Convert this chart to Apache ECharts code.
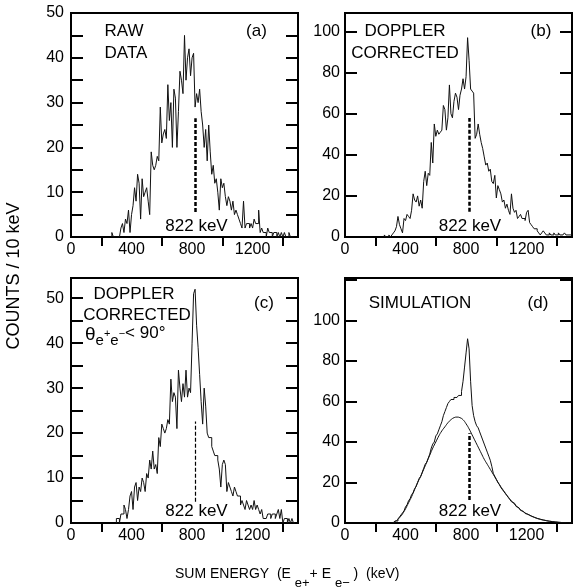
<!DOCTYPE html>
<html>
<head>
<meta charset="utf-8">
<title>Sum energy spectra</title>
<script src="https://cdn.jsdelivr.net/npm/echarts@6/dist/echarts.min.js"></script>
<style>
    html, body { margin: 0; padding: 0; background: #fff; }
    #chart { width: 573px; height: 588px; }
</style>
</head>
<body>
<div id="chart"></div>
<script>
// counts per 10 keV bin, each list starts at its *Start energy (keV)
const binWidth = 10

// (a) raw data
const rawStart = 270
const rawCounts = [
    1, 0, 0, 0, 0, 0, 2, 3, 1, 4,
    3, 6, 1, 5, 7, 11, 8, 14, 12, 4,
    13, 9, 10, 11, 8, 5, 19, 16, 15, 16,
    18, 17, 29, 21, 23, 24, 22, 34, 26, 30,
    20, 33, 31, 20, 28, 37, 35, 32, 45, 35,
    40, 42, 36, 40, 41, 29, 32, 30, 33, 28,
    25, 20, 24, 17, 25, 19, 14, 16, 12, 13,
    10, 6, 13, 11, 12, 9, 7, 9, 8, 6,
    8, 5, 6, 5, 4, 3, 2, 8, 2, 3,
    3, 2, 3, 2, 4, 3, 3, 6, 1, 2,
    1, 1, 0, 2, 1, 1, 0, 1, 1, 0,
    1, 0, 1, 0, 1, 0, 0, 1, 0, 0
]

// (b) doppler corrected
const dopStart = 260
const dopCounts = [
    1, 0, 0, 1, 0, 1, 2, 3, 5, 10,
    6, 4, 2, 9, 8, 11, 10, 9, 13, 21,
    18, 17, 20, 15, 18, 14, 27, 32, 25, 31,
    30, 46, 36, 55, 49, 52, 50, 51, 52, 64,
    62, 52, 58, 74, 60, 58, 66, 70, 68, 62,
    69, 72, 77, 72, 78, 97, 86, 72, 71, 70,
    48, 50, 55, 50, 46, 43, 39, 35, 36, 32,
    33, 27, 26, 30, 19, 25, 23, 21, 17, 18,
    14, 16, 13, 11, 21, 14, 12, 13, 9, 10,
    11, 9, 9, 8, 12, 13, 7, 6, 5, 4,
    4, 3, 2, 1, 2, 3, 2, 1, 1, 2,
    1, 1, 2, 1, 1, 2, 1, 1, 1, 2,
    1, 1, 1, 1
]

// (c) doppler corrected, theta < 90
const gateStart = 300
const gateCounts = [
    1, 1, 0, 2, 2, 4, 3, 1, 3, 6,
    7, 3, 8, 9, 5, 8, 7, 10, 9, 7,
    11, 10, 14, 12, 16, 12, 13, 11, 19, 17,
    22, 21, 20, 21, 23, 22, 32, 27, 29, 28,
    21, 34, 30, 27, 31, 28, 34, 28, 30, 29,
    40, 51, 52, 44, 39, 33, 27, 22, 30, 26,
    20, 19, 19, 17, 16, 15, 15, 14, 12, 8,
    13, 14, 13, 7, 9, 8, 7, 6, 8, 7,
    6, 6, 4, 5, 4, 3, 5, 4, 3, 4,
    3, 5, 3, 4, 3, 2, 3, 1, 1, 1,
    2, 2, 1, 2, 2, 1, 2, 3, 1, 3,
    0, 1, 1, 0, 1, 0, 1, 0
]

// (d) simulation histogram
const simStart = 320
const simCounts = [
    0, 1, 1, 2, 3, 4, 5, 6, 8, 9,
    11, 12, 14, 15, 17, 18, 20, 22, 23, 25,
    27, 29, 30, 32, 34, 37, 39, 40, 43, 44,
    46, 48, 50, 53, 55, 57, 59, 60, 61, 61,
    62, 62, 62, 63, 63, 65, 70, 77, 84, 91,
    86, 70, 58, 53, 50, 48, 47, 45, 43, 41,
    39, 37, 35, 33, 31, 28, 24.5, 23, 21.5, 20,
    19, 17.5, 16.5, 15.5, 14.5, 13.5, 12.5, 11.5, 10.5, 9.8,
    9, 8.2, 7.5, 6.8, 6.2, 5.7, 5.2, 4.7, 4.3, 3.9,
    3.5, 3.2, 2.9, 2.6, 2.3, 2.1, 1.9, 1.7, 1.5, 1.3,
    1.2, 1, 0.9, 0.8, 0.7, 0.6, 0.5, 0.4, 0.35, 0.3,
    0.25, 0.2, 0.15, 0.1
]

// (d) smooth curve, every 20 keV from 300
const curveEnergy = [
    300, 320, 340, 360, 380, 400, 420, 440, 460, 480,
    500, 520, 540, 560, 580, 600, 620, 640, 660, 680,
    700, 720, 740, 760, 780, 800, 820, 840, 860, 880,
    900, 920, 940, 960, 980, 1000, 1020, 1040, 1060, 1080,
    1100, 1120, 1140, 1160, 1180, 1200, 1220, 1240, 1260, 1280,
    1300, 1320, 1340, 1360, 1380, 1400, 1420, 1440, 1460, 1480, 1500
]
const curveCounts = [
    0, 0.3, 1.2, 2.6, 4.5, 7, 10, 13, 16.5, 20,
    23, 26.5, 30, 33.5, 37, 40, 43, 45.5, 47.5, 49.5,
    51, 52, 52.3, 52, 51, 49, 46.5, 43.5, 40.5, 37.5,
    34.5, 31.5, 29, 26.5, 24, 21.5, 19, 16.8, 14.7, 12.7,
    10.9, 9.3, 7.9, 6.6, 5.5, 4.6, 3.8, 3.1, 2.5, 2,
    1.6, 1.3, 1, 0.8, 0.6, 0.45, 0.3, 0.2, 0.1, 0.05, 0
]

// 822 keV marker, dashed from..to (counts)
const markerKeV = 822
const rawMarker = [5.6, 26.5]
const dopMarker = [12.3, 57.9]
const gateMarker = [4.7, 22.6]
const simMarker = [11.4, 44.3]

// axis ticks and labels
const xLabelValues = [0, 400, 800, 1200]
const xTickValues = [200, 600, 1000, 1400]
const yLabels10 = [0, 10, 20, 30, 40, 50]
const yLabels20 = [0, 20, 40, 60, 80, 100]

const font = 'Liberation Sans, Arial, Helvetica, sans-serif'

function histPoints (start, counts) {
    let pts = [[start, 0]]
    counts.forEach(function (c, i) {
        pts.push([start + i * binWidth, c])
    })
    pts.push([start + counts.length * binWidth, counts[counts.length - 1]])
    return pts
}

// grid boxes in px
const panels = [
    { left: 71, top: 13, height: 224, yMax: 50, yTick: 5, yLabels: yLabels10, margin: 7 },
    { left: 345, top: 13, height: 224, yMax: 109, yTick: 20, yLabels: yLabels20, margin: 5 },
    { left: 71, top: 278, height: 245, yMax: 54.5, yTick: 5, yLabels: yLabels10, margin: 7 },
    { left: 345, top: 278, height: 245, yMax: 121, yTick: 20, yLabels: yLabels20, margin: 5 }
]
const plotWidth = 227

// new objects for every axis, nothing shared between them
function blackLine (show) {
    return { show: show, lineStyle: { color: '#000', width: 2 } }
}
function tickStyle (inside, length, values) {
    let t = { show: true, inside: inside, length: length, lineStyle: { color: '#000', width: 2 } }
    if (values) t.customValues = values.slice()
    return t
}

let grids = []
let xAxes = []
let yAxes = []
panels.forEach(function (p, i) {
    grids.push({
        left: p.left, top: p.top, width: plotWidth, height: p.height,
        show: true, borderColor: '#000', borderWidth: 2
    })
    // labels (x = 2i)
    xAxes.push({
        type: 'value', gridIndex: i, min: 0, max: 1500,
        axisLine: blackLine(true),
        splitLine: { show: false },
        axisTick: { show: false },
        axisLabel: {
            customValues: xLabelValues.slice(), margin: 5, color: '#000', fontSize: 16, fontFamily: font,
            formatter: function (v) { return String(v) }
        }
    })
    // ticks (x = 2i + 1), sits on y = 0 as a top axis, so inside points down
    xAxes.push({
        type: 'value', gridIndex: i, min: 0, max: 1500,
        axisLine: blackLine(false),
        splitLine: { show: false },
        axisTick: tickStyle(true, 9, xTickValues),
        axisLabel: { show: false }
    })
    yAxes.push({
        type: 'value', gridIndex: i, min: 0, max: p.yMax, interval: p.yTick, position: 'left',
        axisLine: blackLine(true),
        splitLine: { show: false },
        axisTick: tickStyle(true, 12),
        axisLabel: {
            customValues: p.yLabels.slice(), margin: p.margin, color: '#000', fontSize: 16, fontFamily: font
        }
    })
    // second y axis lands on x = 0; a dashed full-width tick gives the
    // 12 px marks at both the left and the right frame
    let rightTick = tickStyle(false, plotWidth)
    rightTick.lineStyle.type = [12, plotWidth - 24, 12]
    yAxes.push({
        type: 'value', gridIndex: i, min: 0, max: p.yMax, interval: p.yTick, position: 'right',
        axisLine: blackLine(true),
        splitLine: { show: false },
        axisTick: rightTick,
        axisLabel: { show: false }
    })
})

function markLine (range, width) {
    return {
        silent: true,
        symbol: ['none', 'none'],
        label: { show: false },
        lineStyle: { color: '#000', width: width, type: [4, 2] },
        data: [[{ coord: [markerKeV, range[0]] }, { coord: [markerKeV, range[1]] }]]
    }
}

function histSeries (idx, start, counts, marker, width) {
    return {
        type: 'line',
        xAxisIndex: idx * 2,
        yAxisIndex: idx * 2,
        data: histPoints(start, counts),
        step: 'end',
        symbol: 'none',
        lineStyle: { color: '#111', width: 1 },
        markLine: markLine(marker, width),
        z: 3
    }
}

let series = [
    histSeries(0, rawStart, rawCounts, rawMarker, 2.5),
    histSeries(1, dopStart, dopCounts, dopMarker, 2.5),
    histSeries(2, gateStart, gateCounts, gateMarker, 1.2),
    histSeries(3, simStart, simCounts, simMarker, 2.5),
    {
        type: 'line',
        xAxisIndex: 6,
        yAxisIndex: 6,
        data: curveEnergy.map(function (e, i) { return [e, curveCounts[i]] }),
        smooth: true,
        symbol: 'none',
        lineStyle: { color: '#111', width: 1 }
    }
]

function label (text, x, y, size) {
    return {
        type: 'text', x: x, y: y, silent: true,
        style: {
            text: text, fill: '#000', fontSize: size || 17, fontFamily: font,
            textAlign: 'center', align: 'center', textVerticalAlign: 'middle', verticalAlign: 'middle'
        }
    }
}

function rich (size, pad) {
    return { fontSize: size, lineHeight: 20, padding: [pad, 0, 0, 0], fontFamily: font, fill: '#000', color: '#000', verticalAlign: 'top' }
}

let graphics = [
    label('RAW', 124, 31.5),
    label('DATA', 126, 53),
    label('(a)', 256.5, 31.5),
    label('DOPPLER', 405, 31.5),
    label('CORRECTED', 405, 53),
    label('(b)', 541, 31),
    label('DOPPLER', 134, 294),
    label('CORRECTED', 137, 315.5),
    label('(c)', 264, 303),
    label('SIMULATION', 420, 303),
    label('(d)', 538, 303),
    label('822 keV', 196.5, 226),
    label('822 keV', 470, 226),
    label('822 keV', 196.5, 511),
    label('822 keV', 470, 511),
    {
        // theta line of panel (c)
        type: 'text', x: 85, y: 325, silent: true,
        style: {
            text: '{th|θ}{sb|e}{sp|+}{sb|e}{sp|−}{n|< 90°}',
            textAlign: 'left', align: 'left', textVerticalAlign: 'top', verticalAlign: 'top',
            rich: { th: rich(19, 0), n: rich(17, 0), sb: rich(15, 8), sp: rich(11, 3) }
        }
    },
    {
        type: 'text', x: 14, y: 276, rotation: Math.PI / 2, silent: true,
        style: {
            text: 'COUNTS / 10 keV', fill: '#000', fontSize: 18, fontFamily: font,
            textAlign: 'center', align: 'center', textVerticalAlign: 'middle', verticalAlign: 'middle'
        }
    },
    {
        type: 'text', x: 175, y: 567.5, silent: true,
        style: {
            text: '{n|SUM ENERGY  (E }{s|e+}{n|+ E }{s|e−}{n| )  (keV)}',
            textAlign: 'left', align: 'left', textVerticalAlign: 'top', verticalAlign: 'top',
            rich: { n: rich(14, 0), s: rich(13, 9) }
        }
    }
]

let myChart = echarts.init(document.getElementById('chart'))
myChart.setOption({
    animation: false,
    backgroundColor: '#fff',
    grid: grids,
    xAxis: xAxes,
    yAxis: yAxes,
    series: series,
    graphic: graphics
})
</script>
</body>
</html>
